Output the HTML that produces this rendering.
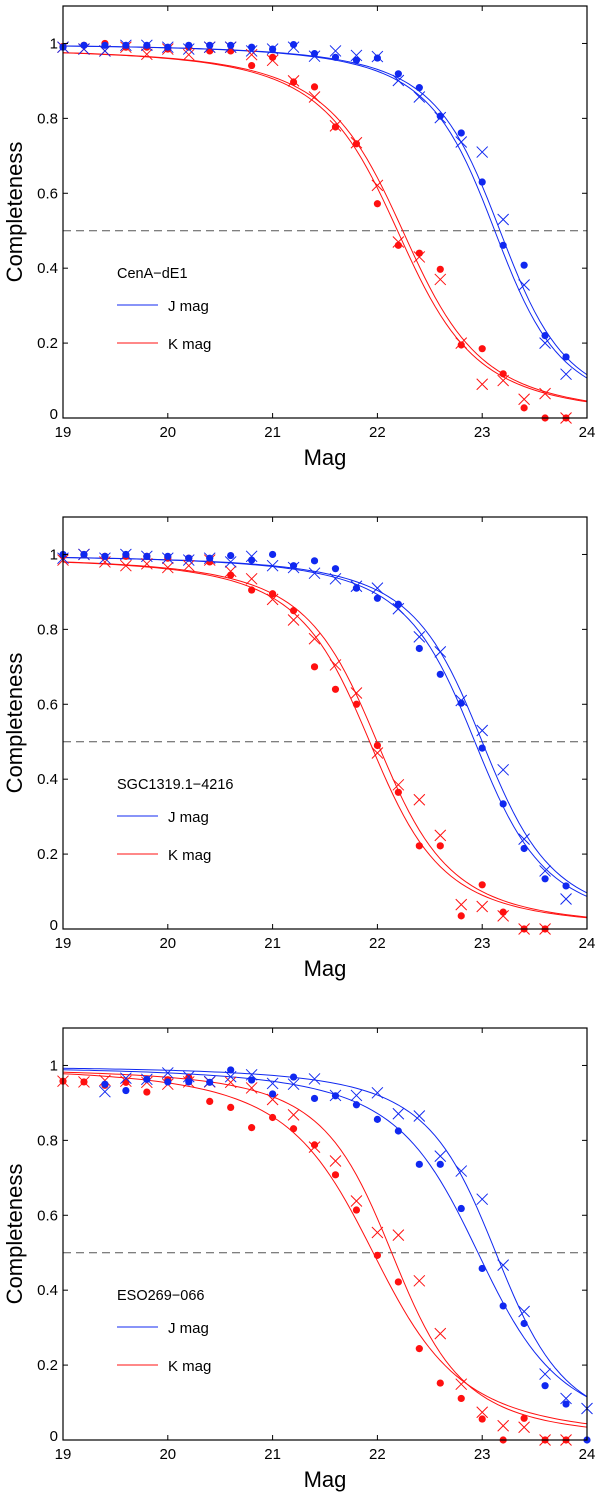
<!DOCTYPE html>
<html><head><meta charset="utf-8">
<style>
html,body{margin:0;padding:0;background:#fff;}
svg{display:block;font-family:"Liberation Sans",Arial,sans-serif;}
</style></head>
<body>
<svg id="chart" width="600" height="1494" viewBox="0 0 600 1494" xmlns="http://www.w3.org/2000/svg"></svg>
<script>
const mags = [19,19.2,19.4,19.6,19.8,20,20.2,20.4,20.6,20.8,21,21.2,21.4,21.6,21.8,22,22.2,22.4,22.6,22.8,23,23.2,23.4,23.6,23.8];
const xTicks = [19,20,21,22,23,24];
const yTicks = [0,0.2,0.4,0.6,0.8,1];
const yTickLabels = ['0','0.2','0.4','0.6','0.8','1'];
const panelNames = ['CenA\u2212dE1','SGC1319.1\u22124216','ESO269\u2212066'];
const panelTops = [6,517,1028];

// panel 1
const p1JDot = [0.99,0.995,0.995,0.995,0.995,0.99,0.995,0.995,0.995,0.99,0.985,0.997,0.973,0.963,0.955,0.961,0.919,0.882,0.806,0.761,0.63,0.461,0.408,0.22,0.163];
const p1JX   = [0.99,0.985,0.98,0.995,0.995,0.99,0.985,0.99,0.99,0.98,0.985,0.99,0.966,0.98,0.968,0.965,0.901,0.857,0.802,0.737,0.71,0.53,0.355,0.2,0.117];
const p1KDot = [0.992,0.995,1.0,0.99,0.99,0.985,0.99,0.98,0.98,0.941,0.963,0.897,0.884,0.777,0.732,0.572,0.461,0.44,0.397,0.195,0.185,0.118,0.027,0.0,0.0];
const p1KX   = [0.99,0.985,0.98,0.99,0.971,0.985,0.97,0.99,0.99,0.97,0.955,0.9,0.857,0.78,0.735,0.621,0.47,0.43,0.37,0.2,0.09,0.1,0.05,0.065,0.0];
// panel 2
const p2JDot = [1.0,1.0,0.995,1.0,0.995,0.995,0.99,0.99,0.997,0.985,1.0,0.97,0.983,0.962,0.91,0.883,0.867,0.749,0.68,0.603,0.483,0.334,0.215,0.134,0.115];
const p2JX   = [0.99,1.0,0.99,1.0,0.995,0.99,0.985,0.99,0.98,0.995,0.97,0.965,0.95,0.935,0.915,0.91,0.855,0.78,0.74,0.61,0.53,0.425,0.24,0.155,0.08];
const p2KDot = [0.997,1.0,0.995,0.995,0.995,0.99,0.99,0.98,0.945,0.905,0.895,0.85,0.70,0.64,0.60,0.49,0.365,0.222,0.222,0.035,0.118,0.045,0.0,0.0,null];
const p2KX   = [0.985,1.0,0.98,0.97,0.975,0.965,0.97,0.985,0.955,0.935,0.88,0.825,0.775,0.705,0.63,0.47,0.385,0.345,0.25,0.065,0.06,0.035,0.0,0.0,null];
// panel 3
const p3Mags = mags.concat([24]);
const p3JDot = [null,null,0.95,0.933,0.963,0.956,0.956,0.955,0.988,0.961,0.924,0.969,0.912,0.919,0.895,0.856,0.825,0.736,0.736,0.618,0.458,0.358,0.311,0.145,0.096,0.0];
const p3JX   = [null,null,0.93,0.966,0.963,0.98,0.97,0.957,0.97,0.975,0.952,0.95,0.964,0.92,0.92,0.927,0.871,0.865,0.758,0.718,0.643,0.467,0.343,0.176,0.111,0.084];
const p3KDot = [0.958,0.956,0.947,0.955,0.929,0.962,0.968,0.904,0.888,0.834,0.861,0.831,0.788,0.708,0.614,0.493,0.422,0.244,0.152,0.111,0.056,0.0,0.058,0.0,0.0,null];
const p3KX   = [0.958,0.956,0.96,0.958,0.955,0.95,0.956,0.956,0.955,0.94,0.909,0.868,0.782,0.745,0.638,0.554,0.547,0.425,0.284,0.149,0.074,0.038,0.034,0.0,0.0,null];

// fit parameters per panel: [m50, alpha, amplitude]
const p1JFitA = [23.12,1.45,1.0]; const p1JFitB = [23.17,1.45,1.0];
const p1KFitA = [22.20,1.24,0.99]; const p1KFitB = [22.25,1.24,0.99];
const p2JFitA = [22.93,1.37,1.0]; const p2JFitB = [23.00,1.37,1.0];
const p2KFitA = [21.93,1.33,0.995]; const p2KFitB = [22.00,1.33,0.995];
const p3JFitA = [22.96,1.16,1.0]; const p3JFitB = [23.13,1.38,1.0];
const p3KFitA = [21.96,1.10,1.0]; const p3KFitB = [22.14,1.37,0.995];

const panels = [
 {m:mags, jd:p1JDot, jx:p1JX, kd:p1KDot, kx:p1KX, jf:[p1JFitA,p1JFitB], kf:[p1KFitA,p1KFitB]},
 {m:mags, jd:p2JDot, jx:p2JX, kd:p2KDot, kx:p2KX, jf:[p2JFitA,p2JFitB], kf:[p2KFitA,p2KFitB]},
 {m:p3Mags, jd:p3JDot, jx:p3JX, kd:p3KDot, kx:p3KX, jf:[p3JFitA,p3JFitB], kf:[p3KFitA,p3KFitB]}
];

const NS='http://www.w3.org/2000/svg';
const svg=document.getElementById('chart');
const X0=63, X1=587, H=412, YMAX=1.1;
const BLUE='#1028f0', RED='#ff1010';
function xs(m){return X0+(m-19)/5*(X1-X0);}
function mk(tag,attrs,parent){const e=document.createElementNS(NS,tag);for(const k in attrs)e.setAttribute(k,attrs[k]);(parent||svg).appendChild(e);return e;}
function fit(p,m){const d=p[1]*(m-p[0]);return p[2]*0.5*(1-d/Math.sqrt(1+d*d));}

panels.forEach((P,i)=>{
  const top=panelTops[i], bot=top+H;
  const ys=v=>bot-v/YMAX*H;
  const g=mk('g',{});
  
  
  // dashed line
  const dl=mk('line',{x1:X0,x2:X1,y1:ys(0.5),y2:ys(0.5),stroke:'#555','stroke-width':1,'stroke-dasharray':'8,5'},g);
  
  
  // fit curves
  const drawFit=(p,col,name)=>{
    let d='';
    for(let k=0;k<=100;k++){const m=19+k*0.05;d+=(k?'L':'M')+xs(m).toFixed(2)+','+ys(fit(p,m)).toFixed(2);}
    const e=mk('path',{d:d,fill:'none',stroke:col,'stroke-width':1},g);
    
    
  };
  drawFit(P.jf[0],BLUE,'j-fit-curve'); drawFit(P.jf[1],BLUE,'j-fit-curve');
  drawFit(P.kf[0],RED,'k-fit-curve'); drawFit(P.kf[1],RED,'k-fit-curve');
  const dots=(arr,col,name)=>{arr.forEach((v,k)=>{if(v===null)return;
    const c=mk('circle',{cx:xs(P.m[k]),cy:ys(v),r:3.6,fill:col},g);
    
    });};
  const crosses=(arr,col,name)=>{arr.forEach((v,k)=>{if(v===null)return;
    const x=xs(P.m[k]),y=ys(v),s=5.5;
    const c=mk('path',{d:`M${x-s},${y-s}L${x+s},${y+s}M${x-s},${y+s}L${x+s},${y-s}`,stroke:col,'stroke-width':1,fill:'none'},g);
    
    });};
  dots(P.kd,RED,'k-dot-marker'); crosses(P.kx,RED,'k-cross-marker');
  dots(P.jd,BLUE,'j-dot-marker'); crosses(P.jx,BLUE,'j-cross-marker');
  // axes box
  const box=mk('rect',{x:X0,y:top,width:X1-X0,height:H,fill:'none',stroke:'#000','stroke-width':1.2},g);
  
  
  xTicks.forEach(t=>{
    const x=xs(t);
    mk('line',{x1:x,x2:x,y1:bot,y2:bot-5,stroke:'#000'},g);
    mk('line',{x1:x,x2:x,y1:top,y2:top+5,stroke:'#000'},g);
    const tl=mk('text',{x:x,y:bot+19,'font-size':15,'text-anchor':'middle'},g);
    tl.textContent=String(t);
    
    
  });
  yTicks.forEach((t,k)=>{
    const y=ys(t);
    mk('line',{x1:X0,x2:X0+5,y1:y,y2:y,stroke:'#000'},g);
    mk('line',{x1:X1,x2:X1-5,y1:y,y2:y,stroke:'#000'},g);
    const tl=mk('text',{x:X0-5,y:y+(t===0?1:5),'font-size':15,'text-anchor':'end'},g);
    tl.textContent=yTickLabels[k];
    
    
  });
  const xt=mk('text',{x:325,y:bot+47,'font-size':22,'text-anchor':'middle'},g);
  xt.textContent='Mag';
  
  
  const yt=mk('text',{x:0,y:0,'font-size':22,'text-anchor':'middle',transform:`translate(22,${top+206}) rotate(-90)`},g);
  yt.textContent='Completeness';
  
  
  // legend
  const lt=mk('text',{x:117,y:top+272,'font-size':14.5},g);
  lt.textContent=panelNames[i];
  
  
  [['J mag',BLUE,299],['K mag',RED,337]].forEach(L=>{
    const ll=mk('line',{x1:117,x2:158,y1:top+L[2],y2:top+L[2],stroke:L[1],'stroke-width':1},g);
    
    
    const lx=mk('text',{x:168,y:top+L[2]+6,'font-size':15},g);
    lx.textContent=L[0];
    
    
  });
});
</script>
</body></html>
